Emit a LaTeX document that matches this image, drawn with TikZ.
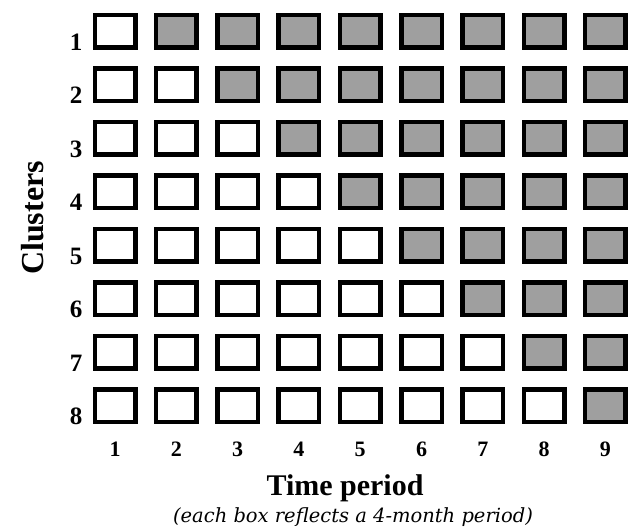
\documentclass[tikz,border=0pt]{standalone}
\usepackage{fontspec}
\setmainfont{Liberation Serif}
\newfontfamily\subfont{DejaVu Serif}
\begin{document}
\begin{tikzpicture}[x=1pt,y=-1pt,
  cell/.style={draw=black,line width=4.5pt,minimum width=40.5pt,minimum height=32.5pt,inner sep=0pt,fill=white},
  shaded/.style={cell,fill=gray!75},
  rlab/.style={font=\fontsize{25}{25}\selectfont\bfseries,inner sep=0pt},
  clab/.style={font=\fontsize{22}{22}\selectfont\bfseries,inner sep=0pt}]
\useasboundingbox (0,0) rectangle (631,530);
\foreach \r in {1,...,8}{
  \foreach \c in {1,...,9}{
    \pgfmathtruncatemacro{\isg}{\c>\r ? 1 : 0}
    \ifnum\isg=1
      \node[shaded] (b\r-\c) at ({115+(\c-1)*61.3},{31+(\r-1)*53.5}) {};
    \else
      \node[cell] (b\r-\c) at ({115+(\c-1)*61.3},{31+(\r-1)*53.5}) {};
    \fi
  }
  \node[rlab,anchor=base] (r\r) at (76,{31+(\r-1)*53.5+19}) {\r};
}
\foreach \c in {1,...,9}{
  \node[clab,anchor=base] (c\c) at ({115+(\c-1)*61.3},456) {\c};
}
\node[font=\fontsize{30}{30}\selectfont\bfseries,anchor=base,inner sep=0pt] (tp) at (345,495) {Time period};
\node[font=\fontsize{19.5}{19.5}\selectfont\subfont\itshape,anchor=base,inner sep=0pt] (sub) at (353,522) {(each box reflects a 4-month period)};
\node[font=\fontsize{32}{32}\selectfont\bfseries,rotate=90,anchor=base,inner sep=0pt] (cl) at (43,218) {Clusters};
\end{tikzpicture}
\end{document}
